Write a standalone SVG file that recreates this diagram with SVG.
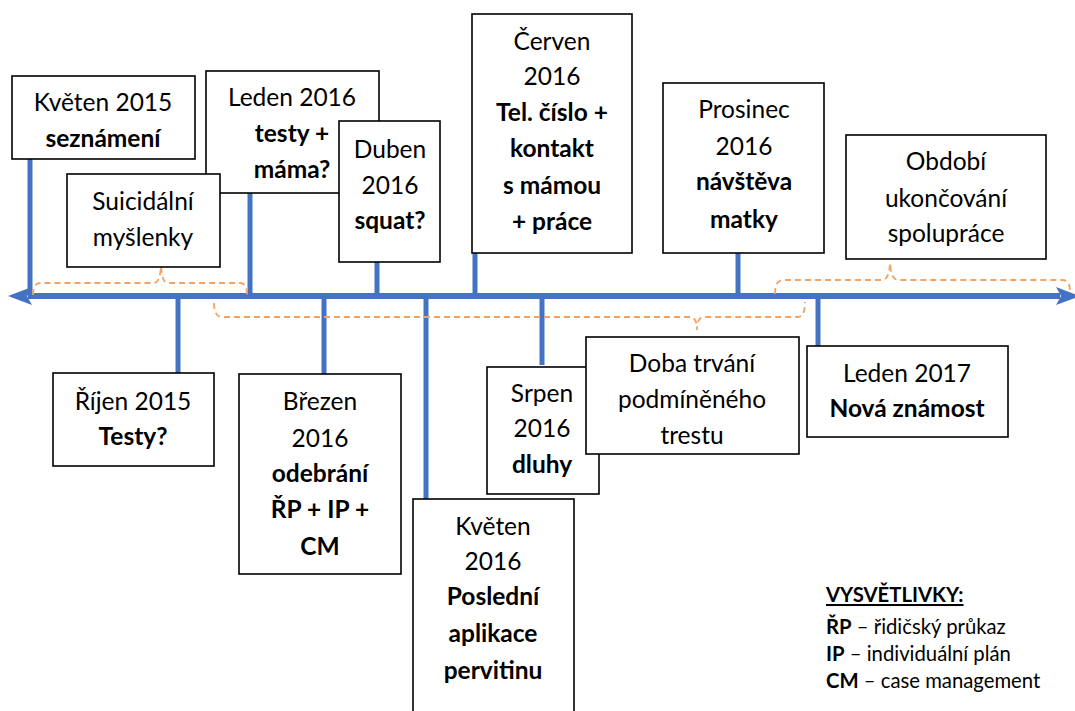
<svg xmlns="http://www.w3.org/2000/svg" width="1075" height="711" viewBox="0 0 1075 711">
<style>
.box{fill:#fff;stroke:#000;stroke-width:1.6}
.stem{stroke:#4472C4;stroke-width:5;fill:none}
.axis{stroke:#4472C4;stroke-width:6;fill:none}
.brace{stroke:#F4A261;stroke-width:1.8;fill:none;stroke-dasharray:6 4}
text{font-family:Lato,"Liberation Sans",sans-serif;font-size:24.5px;fill:#000;text-anchor:middle}
.b{font-weight:bold}
.lg{font-size:20.3px;text-anchor:start}
</style>
<defs>
<marker id="ah" viewBox="0 0 24 20" refX="4" refY="10" markerWidth="24" markerHeight="20" markerUnits="userSpaceOnUse" orient="auto-start-reverse">
<path d="M0,1 L24,10 L0,19 L5,10 Z" fill="#4472C4"/>
</marker>
</defs>
<g id="connectors">
<line class="axis" x1="28" y1="296" x2="1060" y2="296" marker-start="url(#ah)" marker-end="url(#ah)"/>
<line class="stem" x1="30" y1="159" x2="30" y2="296"/>
<line class="stem" x1="250" y1="193" x2="250" y2="296"/>
<line class="stem" x1="377" y1="262" x2="377" y2="296"/>
<line class="stem" x1="475" y1="253" x2="475" y2="296"/>
<line class="stem" x1="738" y1="253" x2="738" y2="296"/>
<line class="stem" x1="178" y1="296" x2="178" y2="373"/>
<line class="stem" x1="324" y1="296" x2="324" y2="374"/>
<line class="stem" x1="426" y1="296" x2="426" y2="499"/>
<line class="stem" x1="542" y1="296" x2="542" y2="365"/>
<line class="stem" x1="818" y1="296" x2="818" y2="346"/>
<path class="brace" d="M33,295 Q33,283 40,283 L154,283 Q160,283 161,266 Q162,283 168,283 L240,283 Q247,283 247,295"/>
<path class="brace" d="M214,303 Q214,317 222,317 L690,317 Q697,317 697,330 Q697,317 704,317 L798,317 Q805,317 805,302"/>
<path class="brace" d="M775,294 Q775,280 783,280 L882,280 Q889,280 890,263 Q891,280 898,280 L1062,280 Q1070,280 1070,291"/>
</g>
<g id="n-kveten2015">
<rect class="box" x="12" y="76" width="183" height="83"/>
<text x="103" y="111">Květen 2015</text>
<text class="b" x="103" y="147">seznámení</text>
</g>
<g id="n-leden2016">
<rect class="box" x="206" y="71" width="173" height="122"/>
<text x="292" y="106">Leden 2016</text>
<text class="b" x="292" y="142">testy +</text>
<text class="b" x="292" y="178">máma?</text>
</g>
<g id="n-suicidalni">
<rect class="box" x="67" y="174" width="153" height="93"/>
<text x="143" y="210">Suicidální</text>
<text x="143" y="246">myšlenky</text>
</g>
<g id="n-duben2016">
<rect class="box" x="339" y="121" width="101" height="141"/>
<text x="390" y="158">Duben</text>
<text x="390" y="194">2016</text>
<text class="b" x="390" y="229">squat?</text>
</g>
<g id="n-cerven2016">
<rect class="box" x="472" y="14" width="160" height="239"/>
<text x="552" y="50">Červen</text>
<text x="552" y="85">2016</text>
<text class="b" x="552" y="121">Tel. číslo +</text>
<text class="b" x="552" y="157">kontakt</text>
<text class="b" x="552" y="194">s mámou</text>
<text class="b" x="552" y="230">+ práce</text>
</g>
<g id="n-prosinec2016">
<rect class="box" x="663" y="83" width="161" height="170"/>
<text x="744" y="118">Prosinec</text>
<text x="744" y="155">2016</text>
<text class="b" x="744" y="190">návštěva</text>
<text class="b" x="744" y="228">matky</text>
</g>
<g id="n-obdobi">
<rect class="box" x="846" y="135" width="200" height="124"/>
<text x="946" y="170">Období</text>
<text x="946" y="207">ukončování</text>
<text x="946" y="242">spolupráce</text>
</g>
<g id="n-rijen2015">
<rect class="box" x="53" y="373" width="161" height="93"/>
<text x="133" y="410">Říjen 2015</text>
<text class="b" x="133" y="445">Testy?</text>
</g>
<g id="n-brezen2016">
<rect class="box" x="239" y="374" width="162" height="200"/>
<text x="320" y="410">Březen</text>
<text x="320" y="447">2016</text>
<text class="b" x="320" y="482">odebrání</text>
<text class="b" x="320" y="518">ŘP + IP +</text>
<text class="b" x="320" y="555">CM</text>
</g>
<g id="n-kveten2016">
<rect class="box" x="413" y="499" width="161" height="220"/>
<text x="493" y="535">Květen</text>
<text x="493" y="570">2016</text>
<text class="b" x="493" y="605">Poslední</text>
<text class="b" x="493" y="642">aplikace</text>
<text class="b" x="493" y="679">pervitinu</text>
</g>
<g id="n-srpen2016">
<rect class="box" x="487" y="367" width="112" height="127"/>
<text x="542" y="402">Srpen</text>
<text x="542" y="437">2016</text>
<text class="b" x="542" y="473">dluhy</text>
</g>
<g id="n-doba">
<rect class="box" x="586" y="337" width="213" height="117"/>
<text x="692" y="372">Doba trvání</text>
<text x="692" y="408">podmíněného</text>
<text x="692" y="444">trestu</text>
</g>
<g id="n-leden2017">
<rect class="box" x="807" y="346" width="201" height="91"/>
<text x="907" y="382">Leden 2017</text>
<text class="b" x="907" y="417">Nová známost</text>
</g>
<g id="legend">
<text class="lg b" x="826" y="602" text-decoration="underline">VYSVĚTLIVKY:</text>
<text class="lg" x="826" y="634"><tspan class="b">ŘP</tspan> – řidičský průkaz</text>
<text class="lg" x="826" y="661"><tspan class="b">IP</tspan> – individuální plán</text>
<text class="lg" x="826" y="688"><tspan class="b">CM</tspan> – case management</text>
</g>
</svg>
